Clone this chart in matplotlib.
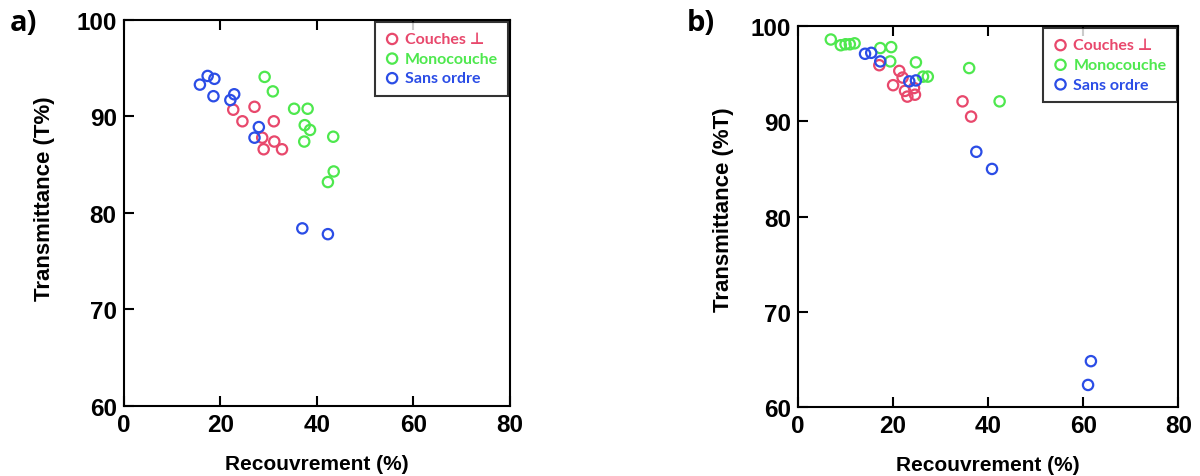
import matplotlib
matplotlib.use("Agg")
import matplotlib.pyplot as plt

plt.rcParams['font.family'] = ['Liberation Sans', 'DejaVu Sans']

# panel a) data
a_couches_x = [22.7, 27.1, 24.6, 31.1, 28.7, 31.2, 29.0, 32.8]
a_couches_y = [90.7, 91.0, 89.5, 89.5, 87.8, 87.4, 86.6, 86.6]
a_mono_x = [29.2, 30.9, 35.3, 38.1, 37.5, 38.6, 37.4, 43.4, 43.5, 42.3]
a_mono_y = [94.1, 92.6, 90.8, 90.8, 89.1, 88.6, 87.4, 87.9, 84.3, 83.2]
a_sans_x = [15.8, 17.4, 18.8, 18.6, 22.9, 22.1, 28.0, 27.1, 37.0, 42.3]
a_sans_y = [93.3, 94.2, 93.9, 92.1, 92.3, 91.7, 88.9, 87.8, 78.4, 77.8]

# panel b) data
b_couches_x = [17.1, 21.3, 22.0, 20.0, 22.5, 24.4, 23.0, 24.6, 34.6, 36.4]
b_couches_y = [95.9, 95.3, 94.6, 93.8, 93.2, 93.5, 92.6, 92.8, 92.1, 90.5]
b_mono_x = [6.9, 9.0, 10.0, 10.9, 11.9, 17.3, 19.6, 19.4, 24.8, 26.3, 27.3, 36.0, 42.4]
b_mono_y = [98.6, 98.0, 98.1, 98.1, 98.2, 97.7, 97.8, 96.3, 96.2, 94.7, 94.7, 95.6, 92.1]
b_sans_x = [14.1, 15.4, 17.3, 23.4, 24.8, 37.5, 40.8, 61.6, 61.0]
b_sans_y = [97.1, 97.2, 96.3, 94.2, 94.3, 86.8, 85.0, 64.8, 62.3]

labels = ['Couches ⊥', 'Monocouche', 'Sans ordre']
colors = ['#e8486c', '#4ee84e', '#2b4de6']
ylabels = ['Transmittance (T%)', 'Transmittance (%T)']
ylabel_pos = [(-0.177, 0.54), (-0.168, 0.52)]

fig = plt.figure(figsize=(12, 4.77), dpi=100)
ax1 = fig.add_axes([0.103, 0.147, 0.322, 0.809])
ax2 = fig.add_axes([0.665, 0.145, 0.317, 0.798])

panels = [
    (ax1, [(a_couches_x, a_couches_y), (a_mono_x, a_mono_y), (a_sans_x, a_sans_y)]),
    (ax2, [(b_couches_x, b_couches_y), (b_mono_x, b_mono_y), (b_sans_x, b_sans_y)]),
]

for i, (ax, series) in enumerate(panels):
    for (xs, ys), lab, c in zip(series, labels, colors):
        ax.scatter(xs, ys, s=55, facecolors='none', edgecolors=c, linewidths=1.6, label=lab)
    ax.set_xlim(0, 80)
    ax.set_ylim(60, 100)
    ax.set_xticks([0, 20, 40, 60, 80])
    ax.set_yticks([60, 70, 80, 90, 100])
    ax.tick_params(direction='in', length=7, width=1.5, top=True, right=False,
                   labelsize=17.5, pad=5)
    for lbl in ax.get_xticklabels() + ax.get_yticklabels():
        lbl.set_fontweight('bold')
    for sp in ax.spines.values():
        sp.set_linewidth(1.5)
    ax.set_xlabel('Recouvrement (%)', fontsize=15, fontweight='bold', labelpad=13)
    ax.set_ylabel(ylabels[i], fontsize=16, fontweight='bold')
    ax.yaxis.set_label_coords(*ylabel_pos[i])
    leg = ax.legend(loc='upper right', borderaxespad=0.1, frameon=True, fancybox=False,
                    handletextpad=0.35, borderpad=0.65, labelspacing=0.34, handlelength=0.9,
                    prop={'family': ['Lato', 'DejaVu Sans'], 'weight': 'bold', 'size': 11.5})
    leg.get_frame().set_edgecolor('black')
    leg.get_frame().set_linewidth(1.5)
    for t, c in zip(leg.get_texts(), colors):
        t.set_color(c)

fig.text(0.008, 0.935, 'a)', fontsize=21, fontweight='bold', family=['Open Sans', 'DejaVu Sans'])
fig.text(0.572, 0.935, 'b)', fontsize=21, fontweight='bold', family=['Open Sans', 'DejaVu Sans'])

fig.savefig('out.png', dpi=100)
